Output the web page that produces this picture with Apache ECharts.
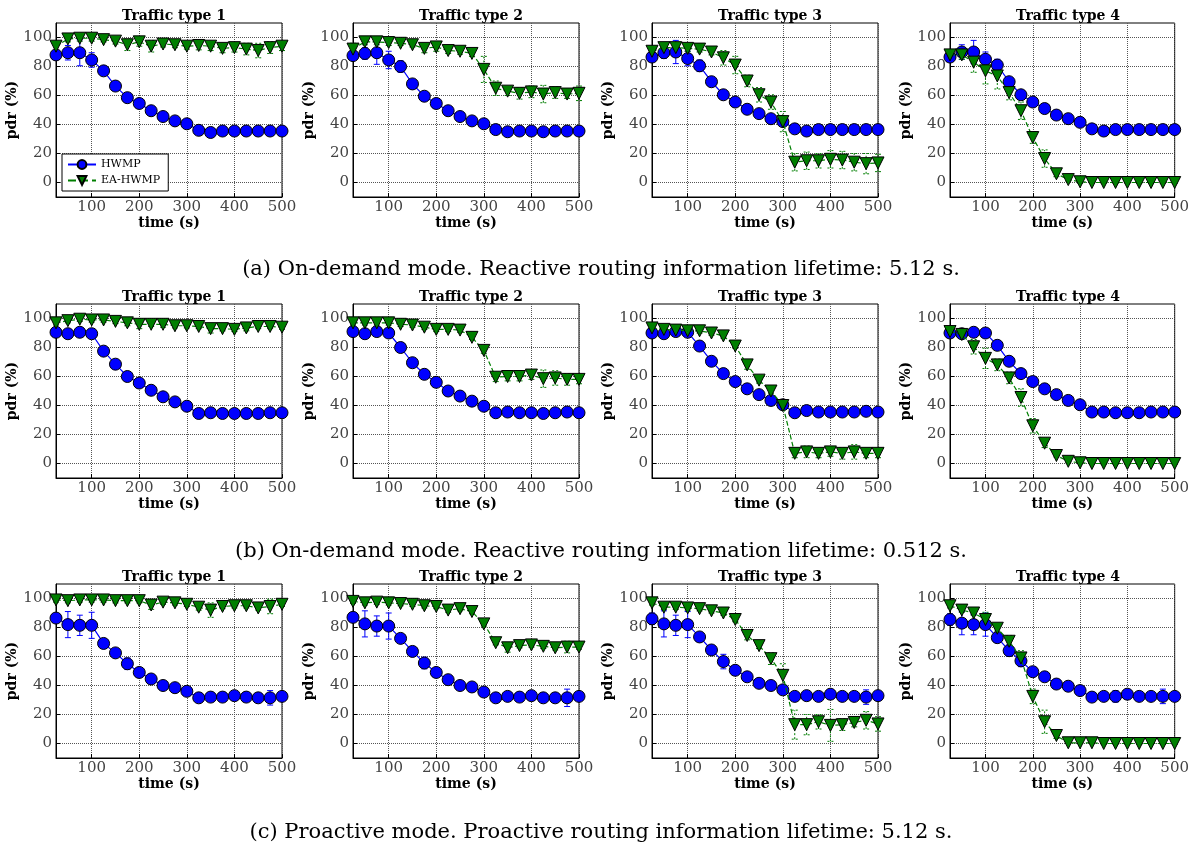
<!DOCTYPE html>
<html>
<head>
<meta charset="utf-8">
<script src="https://cdn.jsdelivr.net/npm/echarts@6/dist/echarts.min.js"></script>
<style>
  html, body { margin: 0; padding: 0; background: #fff; }
  #main { width: 1192px; height: 842px; }
</style>
</head>
<body>
<div id="main"></div>
<script>
// x values (s) and tick labels
const times = [25, 50, 75, 100, 125, 150, 175, 200, 225, 250, 275, 300, 325, 350, 375, 400, 425, 450, 475, 500];
const xTicks = [100, 200, 300, 400, 500];
const yTicks = [0, 20, 40, 60, 80, 100];
const panelTitles = ['Traffic type 1', 'Traffic type 2', 'Traffic type 3', 'Traffic type 4'];
const captions = [
  '(a) On-demand mode. Reactive routing information lifetime: 5.12 s.',
  '(b) On-demand mode. Reactive routing information lifetime: 0.512 s.',
  '(c) Proactive mode. Proactive routing information lifetime: 5.12 s.'
];
const seriesNames = ['HWMP', 'EA-HWMP'];

// (a) on-demand, 5.12 s
const aHwmp1 = [88, 89.5, 89.5, 84.5, 77, 66.5, 58.5, 54.5, 49.5, 45.5, 42.5, 40.5, 36, 34.5, 35.5, 35.5, 35.5, 35.5, 35.5, 35.5];
const aEa1 = [94, 99, 99.5, 99.5, 98.5, 97.5, 95, 97, 94, 95.5, 95, 94, 94.5, 94, 92.5, 93, 92, 91, 93, 94];
const aHwmpErr1 = [3, 5, 9, 5, 3, 1.5, 1, 1, 1, 1, 1, 1, 1, 1, 1, 1, 1, 1, 1, 1];
const aEaErr1 = [3, 2, 2, 2, 1.5, 2, 4, 3, 4, 2, 2, 2, 3, 3, 3, 3, 4, 5, 4, 3];

const aHwmp2 = [87.5, 89, 89.5, 84.5, 80, 68, 59.5, 54.5, 49.5, 45.5, 42.5, 40.5, 36.5, 35, 35.5, 35.5, 35, 35.5, 35.5, 35.5];
const aEa2 = [92, 97, 97, 96.5, 96, 95, 92.5, 93.5, 91, 90.5, 89, 78, 65, 63, 61.5, 62.5, 61, 62, 61, 61.5];
const aHwmpErr2 = [2, 4, 8, 6, 4, 2, 1, 1, 1, 1, 1, 1, 1, 1, 1, 1, 1, 1, 1, 1];
const aEaErr2 = [4, 2, 2, 2, 1.5, 1.5, 3, 3, 2, 2, 2, 9, 5, 3, 4, 4, 6, 4, 3, 5];

const aHwmp3 = [86.5, 89.5, 90, 85.5, 80.5, 69.5, 60.5, 55.5, 50.5, 47.5, 44, 42, 37, 35.5, 36.5, 36.5, 36.5, 36.5, 36.5, 36.5];
const aEa3 = [90.5, 93, 93, 92.5, 92, 90, 86, 81, 70, 60.5, 55.5, 42, 14, 15, 15, 16, 15.5, 14, 13, 13.5];
const aHwmpErr3 = [3, 4, 8, 5, 4, 2, 1, 1, 1, 1, 1, 1, 1, 1, 1, 1, 1, 1, 1, 1];
const aEaErr3 = [3, 2, 3, 2, 2, 2, 5, 6, 4, 5, 5, 7, 6, 6, 5, 6, 6, 6, 7, 6];

const aHwmp4 = [86.5, 90, 90, 85, 81, 69.5, 60.5, 55.5, 51, 46.5, 44, 41.5, 37, 35.5, 36.5, 36.5, 36.5, 36.5, 36.5, 36.5];
const aEa4 = [88, 88, 83, 77, 73.5, 62, 49.5, 31, 16.5, 6, 2, 0.5, 0, 0, 0, 0, 0, 0, 0, 0];
const aHwmpErr4 = [3, 5, 8, 5, 4, 2, 1, 1, 1, 1, 1, 1, 1, 1, 1, 1, 1, 1, 1, 1];
const aEaErr4 = [3, 3, 7, 9, 9, 5, 6, 4, 6, 2, 1, 1, 0.5, 0.5, 0.5, 0.5, 0.5, 0.5, 0.5, 0.5];

// (b) on-demand, 0.512 s
const bHwmp1 = [90.5, 89.5, 90.5, 89.5, 77.5, 68.5, 60, 55.5, 50.5, 46, 42.5, 39.5, 34.5, 35, 34.5, 34.5, 34.5, 34.5, 35, 35];
const bEa1 = [97, 98.5, 99.5, 99, 99, 98, 97, 96, 96, 96, 95, 95, 94.5, 93, 93, 92.5, 93.5, 94.5, 94.5, 94];
const bHwmpErr1 = [1, 1, 1, 1, 1, 1, 1, 1, 1, 1, 1, 1, 1, 1, 1, 1, 1, 1, 1, 1];
const bEaErr1 = [1.5, 1.5, 1.5, 1.5, 1.5, 1.5, 2, 3, 1.5, 2, 1.5, 1.5, 1.5, 3, 1.5, 1.5, 2, 1.5, 1.5, 1.5];

const bHwmp2 = [91, 89.5, 91, 90, 80, 69.5, 61.5, 56, 50, 46.5, 43, 39.5, 35, 35.5, 35, 35, 34.5, 35, 35.5, 35];
const bEa2 = [97, 97, 97, 97, 96, 95.5, 94, 92.5, 92.5, 92, 87, 78, 59.5, 60, 60, 61, 58.5, 59, 58, 58];
const bHwmpErr2 = [1, 1, 1, 1, 3, 1.5, 1, 1, 1, 1, 1, 1, 1, 1, 1, 1, 1, 1, 1, 1];
const bEaErr2 = [1.5, 1.5, 1.5, 1.5, 1.5, 1.5, 1.5, 1.5, 1.5, 1.5, 1.5, 2, 3, 3, 3, 3, 6, 5, 4, 3];

const bHwmp3 = [90, 89.5, 91, 90.5, 81, 70.5, 62, 56.5, 51.5, 47.5, 43.5, 40.5, 35, 36.5, 35.5, 35.5, 35.5, 35.5, 36, 35.5];
const bEa3 = [93.5, 92.5, 92, 91.5, 91.5, 90, 88, 81, 68, 57.5, 50, 40, 7, 8, 7, 8, 7, 8, 7, 7];
const bHwmpErr3 = [1, 1, 1, 1, 1, 1, 1, 1, 1, 1, 1, 1, 1, 1, 1, 1, 1, 1, 1, 1];
const bEaErr3 = [1.5, 1.5, 1.5, 1.5, 1.5, 1.5, 1.5, 1.5, 3, 2, 1.5, 2, 3, 4, 3, 3, 4, 5, 3, 3];

const bHwmp4 = [90, 89.5, 90.5, 90, 81.5, 70.5, 62, 56.5, 51.5, 47.5, 43.5, 40.5, 35.5, 35.5, 35, 35, 35, 35.5, 35.5, 35.5];
const bEa4 = [91, 89, 80.5, 72.5, 68, 59, 45.5, 26, 14, 5.5, 1.5, 0.5, 0, 0, 0, 0, 0, 0, 0, 0];
const bHwmpErr4 = [1.5, 1, 1, 1, 1, 1, 1, 1, 1, 1, 1, 1, 1, 1, 1, 1, 1, 1, 1, 1];
const bEaErr4 = [2, 2, 5, 7, 4, 4, 6, 5, 3, 1, 1, 0.5, 0.5, 0.5, 0.5, 0.5, 0.5, 0.5, 0.5, 0.5];

// (c) proactive, 5.12 s
const cHwmp1 = [86.5, 82, 81.5, 81.5, 69, 62.5, 55, 49, 44.5, 40, 38.5, 36, 31.5, 32, 32, 33, 32, 31.5, 31.5, 32.5];
const cEa1 = [99, 98.5, 99, 99, 99, 98.5, 98.5, 98.5, 95.5, 97.5, 97, 96, 94, 92, 94.5, 95, 95, 93.5, 94.5, 96];
const cHwmpErr1 = [3, 9, 7, 9, 1, 2, 4, 1, 1, 1, 1, 1, 1, 1, 1, 1, 1, 1, 5, 1];
const cEaErr1 = [1.5, 1.5, 1.5, 1.5, 1.5, 1.5, 1.5, 1.5, 3, 1.5, 1.5, 1.5, 2, 5, 1.5, 1.5, 1.5, 1.5, 5, 1.5];

const cHwmp2 = [87, 82.5, 81, 81, 72.5, 63.5, 55.5, 49, 44, 40, 39, 35.5, 31.5, 32.5, 32, 33, 31.5, 31.5, 31.5, 32.5];
const cEa2 = [98, 97, 97.5, 97, 96.5, 96, 95, 94.5, 92, 93, 91, 82.5, 69.5, 66, 67.5, 68, 67, 66, 66.5, 66.5];
const cHwmpErr2 = [3, 9, 7, 9, 1, 1, 4, 1, 1, 1, 1, 1, 1, 1, 1, 1, 1, 1, 6, 1];
const cEaErr2 = [1.5, 1.5, 1.5, 1.5, 1.5, 1.5, 1.5, 1.5, 1.5, 1.5, 1.5, 1.5, 1.5, 3, 1.5, 1.5, 1.5, 1.5, 4, 1.5];

const cHwmp3 = [86, 82.5, 81.5, 82, 73.5, 64.5, 56.5, 50.5, 46, 41.5, 40, 37, 32.5, 33, 32.5, 34, 32.5, 32.5, 32, 33];
const cEa3 = [97, 94, 94, 93.5, 93, 91.5, 90, 85.5, 74.5, 67.5, 58.5, 47, 13, 13, 15, 12.5, 13, 14.5, 16, 13.5];
const cHwmpErr3 = [4, 9, 7, 9, 1, 1, 5, 1, 1, 1, 1, 1, 1, 1, 1, 1, 1, 1, 5, 1];
const cEaErr3 = [1.5, 1.5, 1.5, 1.5, 1.5, 1.5, 1.5, 1.5, 3, 2, 4, 8, 10, 7, 5, 11, 4, 3, 6, 5];

const cHwmp4 = [85.5, 83, 82, 82, 73, 64, 57, 49.5, 46, 41, 39.5, 36.5, 32, 32.5, 32.5, 34, 32.5, 32.5, 32.5, 32.5];
const cEa4 = [95, 92, 90, 85.5, 79.5, 70.5, 59, 32.5, 15, 5.5, 0.5, 0.5, 0.5, 0, 0, 0, 0, 0, 0, 0];
const cHwmpErr4 = [4, 8, 7, 8, 2, 4, 4, 1, 1, 1, 1, 1, 1, 1, 4, 1, 1, 1, 5, 1];
const cEaErr4 = [1.5, 1.5, 1.5, 5, 2, 4, 5, 5, 8, 2, 0.5, 0.5, 0.5, 0.5, 0.5, 0.5, 0.5, 0.5, 0.5, 0.5];

const panels = [
  [aHwmp1, aEa1, aHwmpErr1, aEaErr1], [aHwmp2, aEa2, aHwmpErr2, aEaErr2],
  [aHwmp3, aEa3, aHwmpErr3, aEaErr3], [aHwmp4, aEa4, aHwmpErr4, aEaErr4],
  [bHwmp1, bEa1, bHwmpErr1, bEaErr1], [bHwmp2, bEa2, bHwmpErr2, bEaErr2],
  [bHwmp3, bEa3, bHwmpErr3, bEaErr3], [bHwmp4, bEa4, bHwmpErr4, bEaErr4],
  [cHwmp1, cEa1, cHwmpErr1, cEaErr1], [cHwmp2, cEa2, cHwmpErr2, cEaErr2],
  [cHwmp3, cEa3, cHwmpErr3, cEaErr3], [cHwmp4, cEa4, cHwmpErr4, cEaErr4]
];

const colLefts = [56, 353, 652, 950];
const rowTops = [23, 304, 584];
const plotW = 226, plotH = 174;
const captionY = [254, 536, 817];
const serif = 'DejaVu Serif';
const blue = '#0000ff', green = '#007f00';

function errorBars(color, dashed) {
  return function (params, api) {
    const x = api.value(0);
    const lo = api.coord([x, api.value(1)]);
    const hi = api.coord([x, api.value(2)]);
    const cap = 3;
    const style = { stroke: color, lineWidth: 1, lineDash: dashed ? [2, 2] : null };
    return {
      type: 'group',
      children: [
        { type: 'line', shape: { x1: lo[0], y1: lo[1], x2: hi[0], y2: hi[1] }, style: style },
        { type: 'line', shape: { x1: lo[0] - cap, y1: lo[1], x2: lo[0] + cap, y2: lo[1] }, style: style },
        { type: 'line', shape: { x1: hi[0] - cap, y1: hi[1], x2: hi[0] + cap, y2: hi[1] }, style: style }
      ]
    };
  };
}

const grids = [], xAxes = [], yAxes = [], series = [], titles = [];
panels.forEach(function (p, k) {
  const row = Math.floor(k / 4), col = k % 4;
  const left = colLefts[col], top = rowTops[row];
  grids.push({ left: left, top: top, width: plotW, height: plotH, show: true, borderColor: '#000', borderWidth: 1, backgroundColor: '#fff' });
  xAxes.push({
    type: 'value', gridIndex: k, min: 25, max: 500,
    name: 'time (s)', nameLocation: 'middle', nameGap: 19,
    nameTextStyle: { fontFamily: serif, fontWeight: 'bold', fontSize: 14, color: '#000' },
    axisLine: { show: true, onZero: false, lineStyle: { color: '#000' } },
    axisTick: { show: true, inside: true, length: 4, customValues: xTicks, lineStyle: { color: '#000' } },
    axisLabel: { customValues: xTicks, fontFamily: serif, fontSize: 15, color: '#444', margin: 3 },
    splitLine: { show: true, lineStyle: { type: 'dotted', color: '#555', width: 1 } }
  });
  yAxes.push({
    type: 'value', gridIndex: k, min: -10, max: 110,
    name: 'pdr (%)', nameLocation: 'middle', nameGap: 25, nameRotate: 90,
    nameTextStyle: { fontFamily: serif, fontWeight: 'bold', fontSize: 14, color: '#000' },
    axisLine: { show: true, onZero: false, lineStyle: { color: '#000' } },
    axisTick: { show: true, inside: true, length: 4, customValues: yTicks, lineStyle: { color: '#000' } },
    axisLabel: { customValues: yTicks, fontFamily: serif, fontSize: 15, color: '#444', margin: 4 },
    splitLine: { show: true, lineStyle: { type: 'dotted', color: '#555', width: 1 } }
  });
  titles.push({
    text: panelTitles[col], left: left + plotW / 2, top: top - 19, textAlign: 'center',
    textStyle: { fontFamily: serif, fontWeight: 'bold', fontSize: 14, color: '#000' }
  });

  const hwmp = p[0], ea = p[1], hwmpErr = p[2], eaErr = p[3];
  series.push({
    name: seriesNames[0], type: 'line', xAxisIndex: k, yAxisIndex: k, z: 3,
    data: times.map(function (t, i) { return [t, hwmp[i]]; }),
    symbol: 'circle', symbolSize: 12,
    itemStyle: { color: blue, borderColor: '#000', borderWidth: 1 },
    lineStyle: { color: blue, width: 1.2 }
  });
  series.push({
    name: seriesNames[1], type: 'line', xAxisIndex: k, yAxisIndex: k, z: 4,
    data: times.map(function (t, i) { return [t, ea[i]]; }),
    symbol: 'triangle', symbolSize: 12, symbolRotate: 180,
    itemStyle: { color: green, borderColor: '#000', borderWidth: 1 },
    lineStyle: { color: green, width: 1.2, type: 'dashed' }
  });
  series.push({
    type: 'custom', xAxisIndex: k, yAxisIndex: k, z: 2,
    renderItem: errorBars(blue, false), encode: { x: 0, y: [1, 2] },
    data: times.map(function (t, i) { return [t, hwmp[i] - hwmpErr[i], hwmp[i] + hwmpErr[i]]; })
  });
  series.push({
    type: 'custom', xAxisIndex: k, yAxisIndex: k, z: 2,
    renderItem: errorBars(green, true), encode: { x: 0, y: [1, 2] },
    data: times.map(function (t, i) { return [t, ea[i] - eaErr[i], ea[i] + eaErr[i]]; })
  });
});

captions.forEach(function (c, r) {
  titles.push({
    text: c, left: 596, top: captionY[r], textAlign: 'center',
    textStyle: { fontFamily: serif, fontWeight: 'normal', fontSize: 21, color: '#000' }
  });
});

const chart = echarts.init(document.getElementById('main'), null, { renderer: 'canvas' });
chart.setOption({
  animation: false,
  backgroundColor: '#fff',
  title: titles,
  legend: {
    data: seriesNames, orient: 'vertical', left: 62, top: 154,
    padding: [5, 8, 5, 5], itemGap: 5, itemWidth: 28, itemHeight: 11,
    borderColor: '#000', borderWidth: 1, backgroundColor: '#fff',
    textStyle: { fontFamily: serif, fontSize: 11, color: '#000' }
  },
  grid: grids,
  xAxis: xAxes,
  yAxis: yAxes,
  series: series
});
</script>
</body>
</html>
